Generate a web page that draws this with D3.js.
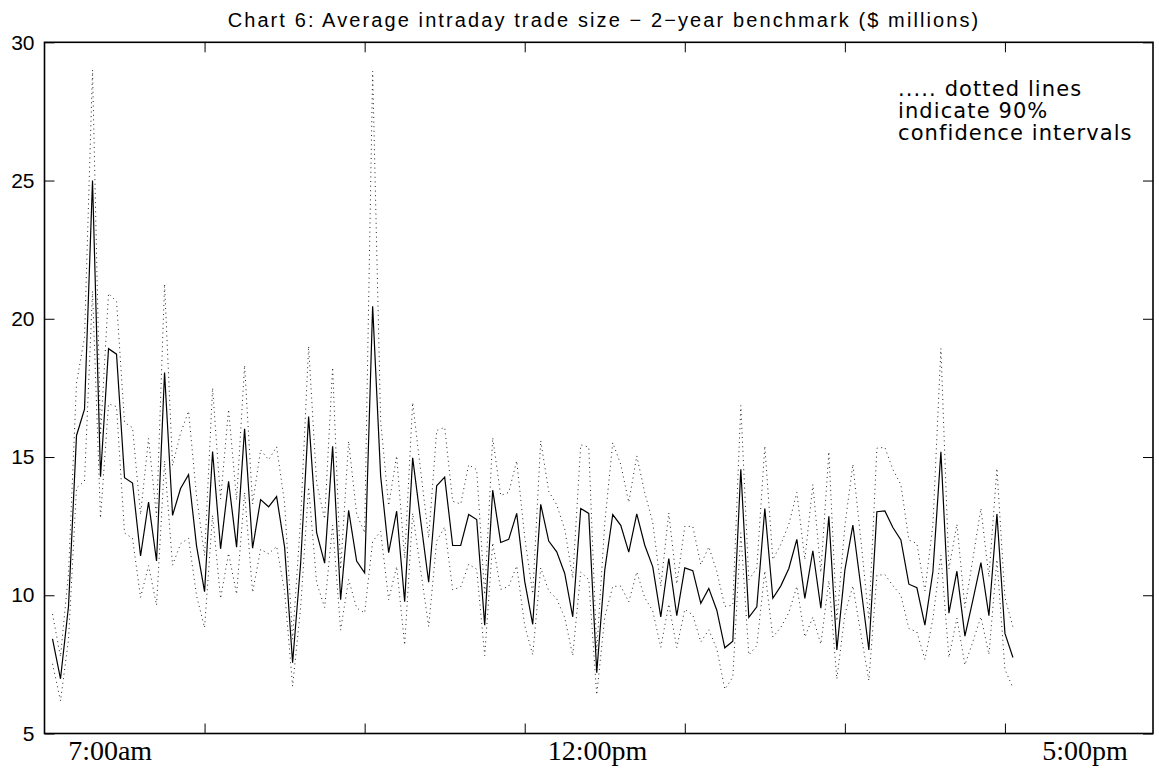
<!DOCTYPE html>
<html lang="en">
<head>
<meta charset="utf-8">
<title>Chart 6: Average intraday trade size</title>
<script src="https://cdnjs.cloudflare.com/ajax/libs/d3/7.8.5/d3.min.js"></script>
<style>
  body { margin: 0; background: #fff; }
  .tick line { stroke: #000; stroke-width: 1; }
  .ylab text { font-family: "Liberation Sans", Arial, sans-serif; font-size: 21px; fill: #000; }
</style>
</head>
<body>
<svg id="chart" width="1159" height="768"></svg>
<script>
// average trade size per 5-minute interval, $ millions (interval index 1..121)
const mean = [
  8.42, 6.98, 9.6, 15.78, 16.73, 25.0, 14.29, 18.92, 18.72, 14.25,
  14.06, 11.42, 13.37, 11.24, 18.06, 12.89, 13.86, 14.36, 11.78, 10.13,
  15.2, 11.68, 14.12, 11.74, 16.02, 11.70, 13.46, 13.20, 13.57, 11.74,
  7.56, 11.14, 16.46, 12.26, 11.16, 15.39, 9.84, 13.07, 11.24, 10.81,
  20.45, 14.31, 11.54, 13.04, 9.77, 14.97, 12.7, 10.47, 13.96, 14.27,
  11.80, 11.80, 12.92, 12.74, 8.92, 13.80, 11.91, 12.02, 12.96, 10.5,
  8.95, 13.29, 11.96, 11.57, 10.79, 9.22, 13.14, 12.96, 7.20, 10.91,
  12.92, 12.53, 11.56, 12.94, 11.81, 11.03, 9.22, 11.33, 9.26, 10.99,
  10.89, 9.71, 10.25, 9.46, 8.10, 8.34, 14.56, 9.20, 9.58, 13.14,
  9.89, 10.34, 10.97, 12.02, 9.89, 11.61, 9.53, 12.86, 8.02, 10.91,
  12.54, 10.3, 8.02, 13.02, 13.05, 12.45, 12.00, 10.40, 10.27, 8.92,
  10.85, 15.19, 9.35, 10.87, 8.52, 9.83, 11.18, 9.26, 12.94, 8.62,
  7.75
];

// upper 90% confidence bound
const upper = [
  9.32, 7.78, 10.8, 17.68, 19.33, 29.0, 15.79, 20.92, 20.62, 16.25,
  16.06, 12.92, 15.67, 12.84, 21.26, 14.69, 15.86, 16.66, 13.58, 11.43,
  17.5, 13.48, 16.72, 13.44, 18.32, 13.3, 15.26, 14.9, 15.37, 13.34,
  8.41, 12.74, 19.01, 14.06, 12.76, 18.24, 10.94, 15.57, 12.94, 12.26,
  28.95, 16.31, 13.24, 15.04, 11.34, 16.97, 14.5, 12.07, 15.96, 16.07,
  13.4, 13.3, 14.72, 14.54, 10.02, 15.7, 13.61, 13.72, 14.86, 12.1,
  10.05, 15.59, 13.76, 13.27, 12.39, 10.62, 15.44, 15.36, 8.0, 12.61,
  15.52, 14.73, 13.36, 15.04, 13.71, 12.63, 10.32, 12.98, 10.41, 12.49,
  12.49, 11.11, 11.75, 10.86, 9.6, 9.64, 16.86, 10.56, 10.98, 15.4,
  11.29, 11.84, 12.57, 13.72, 11.29, 14.01, 10.83, 15.19, 9.07, 12.51,
  14.74, 12.0, 9.12, 15.32, 15.35, 14.55, 14.0, 12.0, 11.87, 10.16,
  12.55, 18.93, 10.95, 12.57, 9.56, 11.33, 13.14, 10.66, 14.59, 9.92,
  8.85
];

// lower 90% confidence bound
const lower = [
  7.52, 6.18, 8.4, 13.88, 14.13, 21.0, 12.79, 16.92, 16.82, 12.25,
  12.06, 9.92, 11.07, 9.64, 14.86, 11.09, 11.86, 12.06, 9.98, 8.83,
  12.9, 9.88, 11.52, 10.04, 13.72, 10.1, 11.66, 11.5, 11.77, 10.14,
  6.71, 9.54, 13.91, 10.46, 9.56, 12.54, 8.74, 10.57, 9.54, 9.36,
  11.95, 12.31, 9.84, 11.04, 8.2, 12.97, 10.9, 8.87, 11.96, 12.47,
  10.2, 10.3, 11.12, 10.94, 7.82, 11.9, 10.21, 10.32, 11.06, 8.9,
  7.85, 10.99, 10.16, 9.87, 9.19, 7.82, 10.84, 10.56, 6.4, 9.21,
  10.32, 10.33, 9.76, 10.84, 9.91, 9.43, 8.12, 9.68, 8.11, 9.49,
  9.29, 8.31, 8.75, 8.06, 6.6, 7.04, 12.26, 7.84, 8.18, 10.88,
  8.49, 8.84, 9.37, 10.32, 8.49, 9.21, 8.23, 10.53, 6.97, 9.31,
  10.34, 8.6, 6.92, 10.72, 10.75, 10.35, 10.0, 8.8, 8.67, 7.68,
  9.15, 11.45, 7.75, 9.17, 7.48, 8.33, 9.22, 7.86, 11.29, 7.32,
  6.65
];

const yTicks = [5, 10, 15, 20, 25, 30];
const xTicks = [20, 40, 60, 80, 100, 120];
const timeLabels = ["7:00am", "12:00pm", "5:00pm"];
const timeLabelPos = [8.2, 69.1, 130.0];
const noteLines = [".....  dotted lines", "indicate 90%", "confidence intervals"];

const svg = d3.select("#chart");
const padL = 44.5, padR = 1153, padT = 42.3, padB = 733.5;

const x = d3.scaleLinear().domain([0, 138.5]).range([padL, padR]);
const y = d3.scaleLinear().domain([5, 30]).range([padB, padT]);

// title
svg.append("text")
  .attr("x", 604)
  .attr("y", 27)
  .attr("text-anchor", "middle")
  .style("font-family", "Liberation Sans, Arial, sans-serif")
  .style("font-size", "20px")
  .style("letter-spacing", "2.1px")
  .text("Chart 6: Average intraday trade size \u2212 2\u2212year benchmark ($ millions)");

// axes, ticks pointing inward
svg.append("g").attr("class", "ylab")
  .attr("transform", `translate(${padL},0)`)
  .call(d3.axisLeft(y).tickValues(yTicks).tickSize(-10).tickPadding(10).tickSizeOuter(0))
  .call(g => g.select(".domain").remove());

svg.append("g")
  .attr("transform", `translate(${padR},0)`)
  .call(d3.axisRight(y).tickValues(yTicks).tickSize(-10).tickFormat("").tickSizeOuter(0))
  .call(g => g.select(".domain").remove());

svg.append("g")
  .attr("transform", `translate(0,${padB})`)
  .call(d3.axisBottom(x).tickValues(xTicks).tickSize(-10).tickFormat("").tickSizeOuter(0))
  .call(g => g.select(".domain").remove());

svg.append("g")
  .attr("transform", `translate(0,${padT})`)
  .call(d3.axisTop(x).tickValues(xTicks).tickSize(-10).tickFormat("").tickSizeOuter(0))
  .call(g => g.select(".domain").remove());

svg.append("rect")
  .attr("x", padL).attr("y", padT)
  .attr("width", padR - padL).attr("height", padB - padT)
  .attr("fill", "none").attr("stroke", "#000").attr("stroke-width", 1.6);

// time labels under the axis
svg.selectAll(".tlab")
  .data(timeLabels)
  .enter().append("text")
  .attr("class", "tlab")
  .attr("x", (d, i) => x(timeLabelPos[i]))
  .attr("y", 760)
  .attr("text-anchor", "middle")
  .style("font-family", "Liberation Serif, Times New Roman, serif")
  .style("font-size", "28px")
  .text(d => d);

const line = d3.line()
  .x((d, i) => x(i + 1))
  .y(d => y(d));

// confidence bands
[upper, lower].forEach(s => {
  svg.append("path")
    .datum(s)
    .attr("d", line)
    .attr("fill", "none")
    .attr("stroke", "#222")
    .attr("stroke-width", 1)
    .attr("stroke-dasharray", "1 3.6");
});

svg.append("path")
  .datum(mean)
  .attr("d", line)
  .attr("fill", "none")
  .attr("stroke", "#000")
  .attr("stroke-width", 1.2)
  .attr("stroke-linejoin", "miter");

// note
svg.append("g").selectAll("text")
  .data(noteLines)
  .enter().append("text")
  .attr("x", 898)
  .attr("y", (d, i) => 96 + i * 22)
  .style("font-family", "DejaVu Sans, sans-serif")
  .style("font-size", "21px")
  .style("letter-spacing", "1.1px")
  .text(d => d);
</script>
</body>
</html>
